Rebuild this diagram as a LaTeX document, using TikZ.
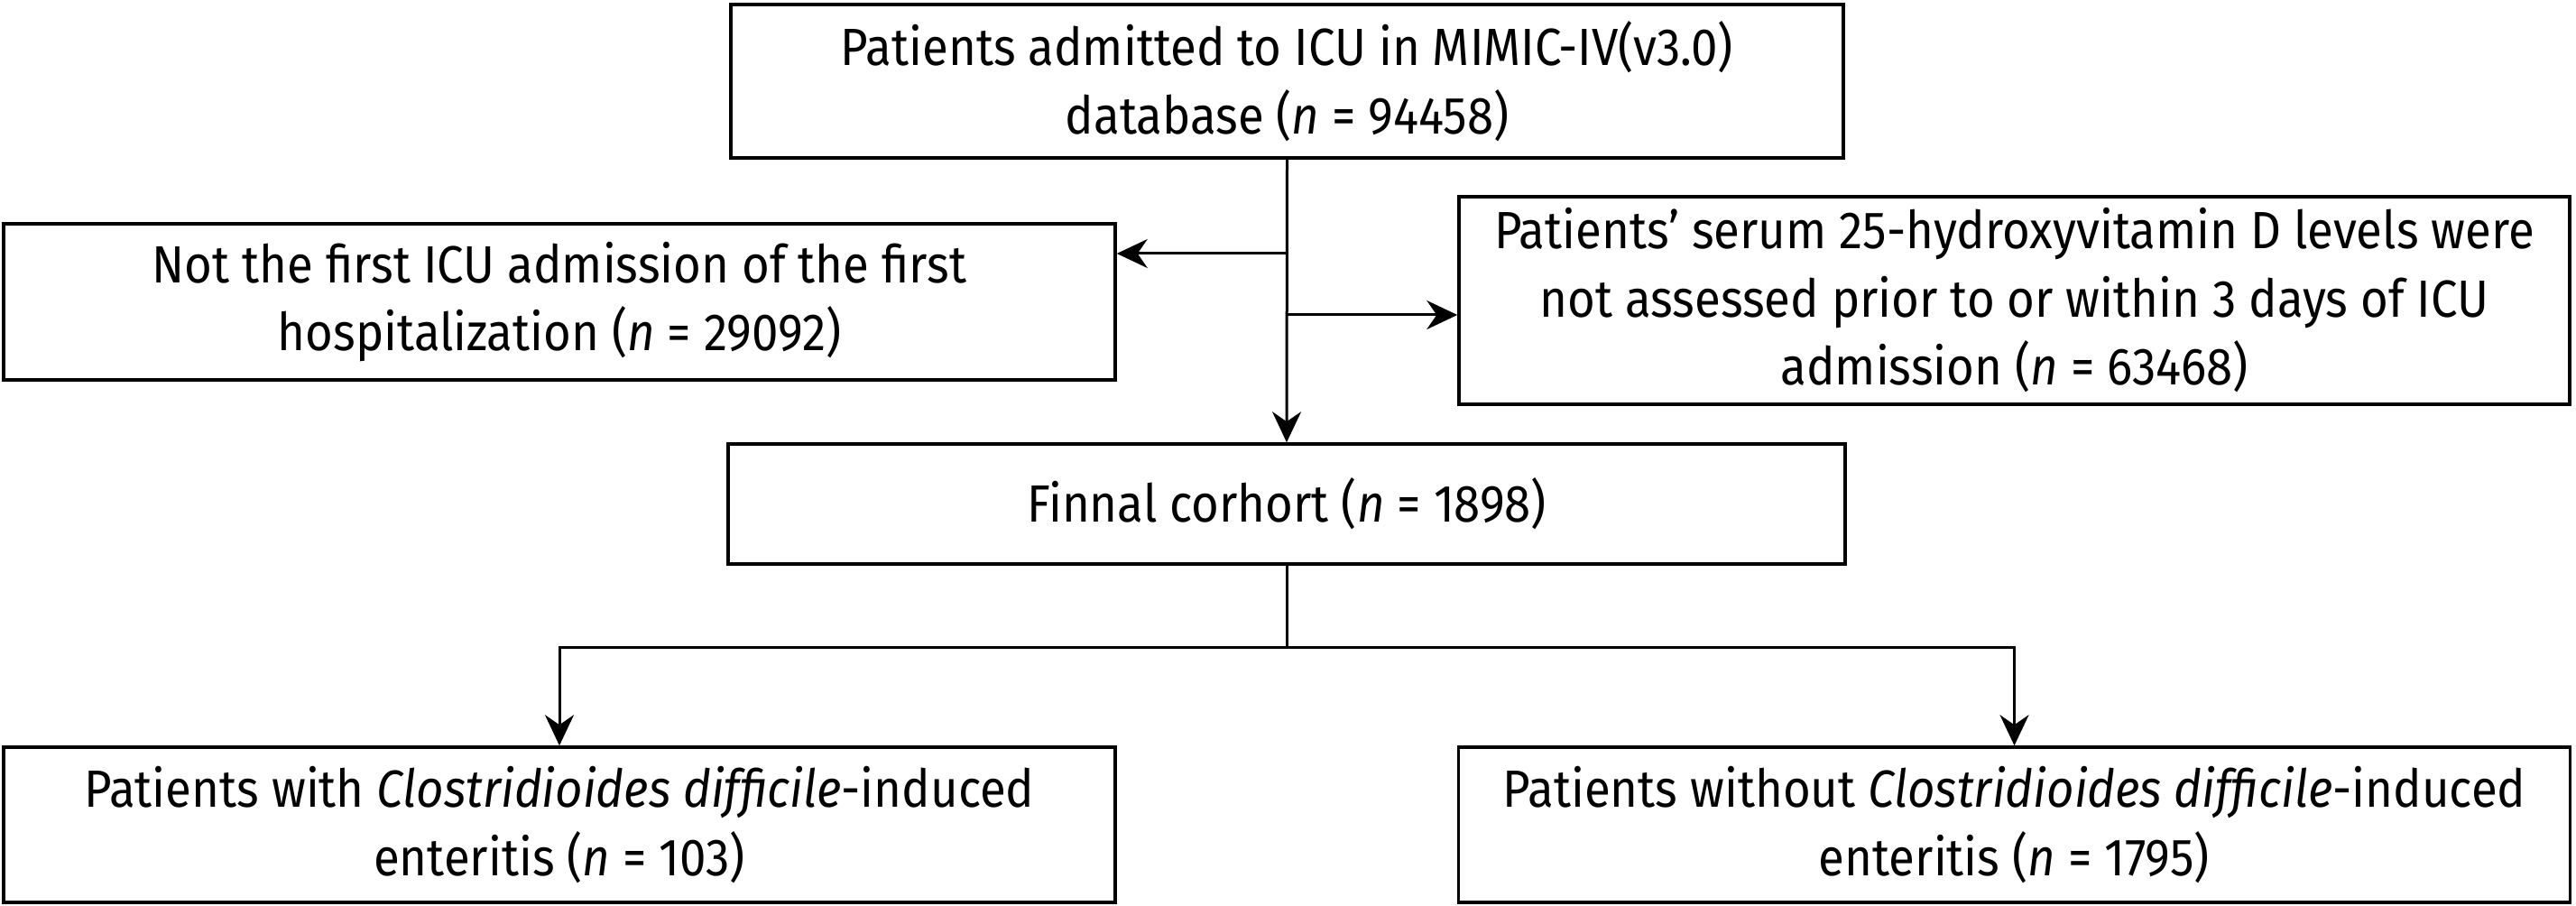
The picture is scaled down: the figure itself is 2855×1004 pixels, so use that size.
\documentclass[tikz,border=0pt]{standalone}
\usepackage{fontspec}
\setmainfont{Fira Sans}[FakeStretch=0.91]
\usetikzlibrary{arrows.meta}
\begin{document}
\begin{tikzpicture}[x=0.1mm,y=-0.1mm,
  box/.style={draw, line width=0.35mm, align=center, inner sep=0pt,
    font=\fontsize{16.5pt}{21.5pt}\selectfont},
  arr/.style={-{Stealth[length=3.4mm,width=3.2mm,inset=1.1mm]}, line width=0.3mm},
  ln/.style={line width=0.3mm}]
\useasboundingbox (0,0) rectangle (2855,1004);
\node[box, minimum width=123.3mm, minimum height=17mm] (top) at (1426.5,90)
  {Patients admitted to ICU in MIMIC-IV(v3.0)\\database (\textit{n} = 94458)};
\node[box, minimum width=123.2mm, minimum height=17.3mm] (left) at (620,334.5)
  {Not the first ICU admission of the first\\hospitalization (\textit{n} = 29092)};
\node[box, minimum width=123.1mm, minimum height=23mm] (right) at (2232.5,333)
  {Patients’ serum 25-hydroxyvitamin D levels were\\not assessed prior to or within 3 days of ICU\\admission (\textit{n} = 63468)};
\node[box, minimum width=123.8mm, minimum height=13.3mm] (mid) at (1426,558.5)
  {Finnal corhort (\textit{n} = 1898)};
\node[box, minimum width=123.2mm, minimum height=17.2mm] (bl) at (620,914)
  {Patients with \textit{Clostridioides difficile}-induced\\enteritis (\textit{n} = 103)};
\node[box, minimum width=123.2mm, minimum height=17.2mm] (br) at (2232.5,914)
  {Patients without \textit{Clostridioides difficile}-induced\\enteritis (\textit{n} = 1795)};
\coordinate (j1) at (1426.5,281);
\coordinate (j2) at (1426.5,349);
\coordinate (j3) at (1426,717);
\draw[arr] (top.south) -- (mid.north);
\draw[arr] (j1) -- (j1 -| left.east);
\draw[arr] (j2) -- (j2 -| right.west);
\draw[ln] (mid.south) -- (j3);
\draw[arr] (j3) -| (bl.north);
\draw[arr] (j3) -| (br.north);
\end{tikzpicture}
\end{document}
